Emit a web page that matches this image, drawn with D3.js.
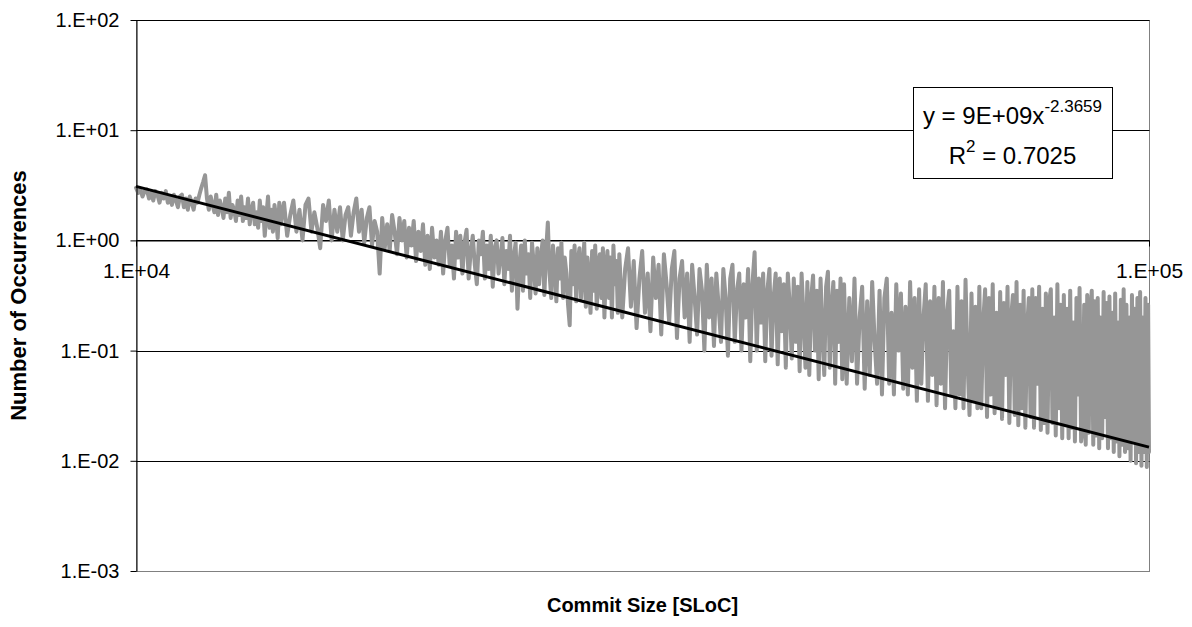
<!DOCTYPE html>
<html><head><meta charset="utf-8">
<script src="https://cdn.jsdelivr.net/npm/d3@7"></script>
<style>body{margin:0;background:#fff} svg{display:block;font-family:"Liberation Sans",Arial,sans-serif}</style>
</head><body>
<svg id="chart" width="1192" height="627"></svg>
<script>
const commitSize = [
10000,10050,10100,10150,10200,10250,10300,10350,10400,10450,
10500,10550,10600,10650,10700,10750,10800,10850,10900,10950,
11000,11050,11100,11150,11200,11250,11300,11350,11400,11450,
11500,11550,11600,11650,11700,11750,11800,11850,11900,11950,
12000,12050,12100,12150,12200,12250,12300,12350,12400,12450,
12500,12550,12600,12650,12700,12750,12800,12850,12900,12950,
13000,13050,13100,13150,13200,13250,13300,13350,13400,13450,
13500,13550,13600,13650,13700,13750,13800,13850,13900,13950,
14000,14100,14200,14300,14400,14500,14600,14700,14800,14900,
15000,15100,15200,15300,15400,15500,15600,15700,15800,15900,
16000,16100,16200,16300,16400,16500,16600,16700,16800,16900,
17000,17100,17200,17300,17400,17500,17600,17700,17800,17900,
18000,18100,18200,18300,18400,18500,18600,18700,18800,18900,
19000,19100,19200,19300,19400,19500,19600,19700,19800,19900,
20000,20100,20200,20300,20400,20500,20600,20700,20800,20900,
21000,21100,21200,21300,21400,21500,21600,21700,21800,21900,
22000,22100,22200,22300,22400,22500,22600,22700,22800,22900,
23000,23100,23200,23300,23400,23500,23600,23700,23800,23900,
24000,24100,24200,24300,24400,24500,24600,24700,24800,24900,
25000,25100,25200,25300,25400,25500,25600,25700,25800,25900,
26000,26100,26200,26300,26400,26500,26600,26700,26800,26900,
27000,27100,27200,27300,27400,27500,27600,27700,27800,27900,
28000,28100,28200,28300,28400,28500,28600,28700,28800,28900,
29000,29100,29200,29300,29400,29500,29600,29700,29800,29900,
30000,30200,30400,30600,30800,31000,31200,31400,31600,31800,
32000,32200,32400,32600,32800,33000,33200,33400,33600,33800,
34000,34200,34400,34600,34800,35000,35200,35400,35600,35800,
36000,36200,36400,36600,36800,37000,37200,37400,37600,37800,
38000,38200,38400,38600,38800,39000,39200,39400,39600,39800,
40000,40200,40400,40600,40800,41000,41200,41400,41600,41800,
42000,42200,42400,42600,42800,43000,43200,43400,43600,43800,
44000,44200,44400,44600,44800,45000,45200,45400,45600,45800,
46000,46200,46400,46600,46800,47000,47200,47400,47600,47800,
48000,48200,48400,48600,48800,49000,49200,49400,49600,49800,
50000,50300,50600,50900,51200,51500,51800,52100,52400,52700,
53000,53300,53600,53900,54200,54500,54800,55100,55400,55700,
56000,56300,56600,56900,57200,57500,57800,58100,58400,58700,
59000,59300,59600,59900,60200,60500,60800,61100,61400,61700,
62000,62300,62600,62900,63200,63500,63800,64100,64400,64700,
65000,65300,65600,65900,66200,66500,66800,67100,67400,67700,
68000,68300,68600,68900,69200,69500,69800,70100,70400,70700,
71000,71300,71600,71900,72200,72500,72800,73100,73400,73700,
74000,74300,74600,74900,75200,75500,75800,76100,76400,76700,
77000,77300,77600,77900,78200,78500,78800,79100,79400,79700,
80000,80300,80600,80900,81200,81500,81800,82100,82400,82700,
83000,83300,83600,83900,84200,84500,84800,85100,85400,85700,
86000,86300,86600,86900,87200,87500,87800,88100,88400,88700,
89000,89300,89600,89900,90200,90500,90800,91100,91400,91700,
92000,92300,92600,92900,93200,93500,93800,94100,94400,94700,
95000,95300,95600,95900,96200,96500,96800,97100,97400,97700,
98000,98300,98600,98900,99200,99500,99800,100000
];
const occurrences = [
3.0,2.7,2.9,2.5,2.8,2.9,2.4,2.7,2.3,2.8,
2.6,2.2,2.7,2.4,2.8,2.2,2.5,2.1,2.6,2.3,
2.0,2.5,2.6,2.0,2.4,1.9,2.5,2.2,1.9,2.4,
2.2,2.6,3.0,3.4,3.9,2.4,1.9,2.5,2.1,1.8,
2.6,1.7,2.3,2.0,1.6,2.4,1.8,2.7,1.6,2.1,
1.9,1.5,2.3,1.7,2.5,1.5,2.0,1.6,2.4,1.4,
1.9,2.2,1.4,1.8,1.3,2.3,1.5,2.0,1.1,1.7,
2.5,1.3,1.9,1.2,2.1,1.6,1.05,2.2,1.4,1.8,
2.2,1.1,1.7,2.3,1.2,1.9,1.0,2.1,2.4,1.2,
1.8,1.3,0.85,2.1,1.5,2.3,1.0,1.9,1.2,2.0,
1.0,1.7,2.0,1.1,1.8,2.4,1.2,1.9,0.95,1.6,
2.0,0.9,1.5,1.2,0.5,1.6,0.85,1.4,0.8,1.7,
1.2,0.75,1.6,1.0,1.5,0.7,1.3,0.9,1.5,0.65,
1.2,0.8,1.4,0.6,1.1,0.55,1.3,0.7,1.0,0.6,
1.2,0.5,1.0,1.3,0.6,0.9,0.45,1.2,0.7,1.1,
0.5,0.95,1.25,0.45,0.8,1.1,0.6,0.4,1.0,0.75,
1.2,0.45,0.9,0.55,1.1,0.38,0.85,1.0,0.5,0.7,
1.05,0.4,0.8,0.55,1.1,0.35,0.7,0.95,0.24,0.6,
0.9,0.35,1.0,0.5,0.75,0.3,0.95,0.6,0.33,0.85,
0.4,0.7,1.0,0.32,0.8,1.45,0.5,0.3,0.9,0.6,
0.28,0.85,0.45,0.95,0.3,0.7,0.5,0.26,0.17,0.8,
0.4,0.9,0.28,0.65,0.85,0.3,0.55,0.95,0.25,0.7,
0.45,0.22,0.8,0.35,0.9,0.24,0.6,0.75,0.3,0.85,
0.2,0.55,0.8,0.3,0.7,0.2,0.9,0.4,0.65,0.22,
0.75,0.2,0.55,0.85,0.25,0.65,0.16,0.45,0.8,0.22,
0.5,0.15,0.7,0.3,0.6,0.14,0.75,0.4,0.18,0.55,
0.8,0.13,0.45,0.65,0.2,0.5,0.12,0.6,0.3,0.14,
0.55,0.35,0.1,0.6,0.2,0.45,0.11,0.5,0.25,0.12,
0.55,0.3,0.09,0.45,0.6,0.12,0.35,0.5,0.1,0.4,
0.2,0.55,0.08,0.4,0.78,0.1,0.45,0.18,0.5,0.08,
0.35,0.55,0.09,0.3,0.5,0.075,0.45,0.15,0.4,0.07,
0.5,0.25,0.085,0.45,0.12,0.38,0.065,0.5,0.2,0.07,
0.42,0.06,0.3,0.48,0.1,0.35,0.055,0.45,0.15,0.06,
0.38,0.52,0.07,0.25,0.42,0.05,0.35,0.12,0.45,0.055,
0.4,0.05,0.3,0.08,0.45,0.05,0.2,0.38,0.045,0.28,
0.06,0.42,0.12,0.05,0.35,0.04,0.3,0.45,0.05,0.22,
0.04,0.4,0.1,0.33,0.045,0.25,0.04,0.42,0.07,0.3,
0.035,0.36,0.05,0.2,0.4,0.035,0.28,0.06,0.38,0.032,
0.3,0.05,0.42,0.03,0.22,0.35,0.04,0.15,0.03,0.38,
0.04,0.28,0.03,0.44,0.08,0.026,0.33,0.035,0.25,0.03,
0.38,0.03,0.18,0.36,0.025,0.3,0.04,0.4,0.027,0.22,
0.03,0.34,0.024,0.27,0.06,0.38,0.022,0.2,0.32,0.026,
0.42,0.021,0.26,0.03,0.35,0.02,0.16,0.3,0.025,0.36,
0.02,0.3,0.05,0.38,0.019,0.24,0.022,0.33,0.018,0.28,
0.36,0.022,0.2,0.017,0.4,0.03,0.26,0.016,0.32,0.021,
0.24,0.016,0.35,0.02,0.18,0.015,0.3,0.04,0.37,0.015,
0.019,0.26,0.014,0.32,0.018,0.22,0.35,0.014,0.28,0.017,
0.3,0.013,0.2,0.016,0.34,0.025,0.27,0.013,0.31,0.016,
0.22,0.012,0.33,0.015,0.18,0.011,0.29,0.014,0.36,0.012,
0.26,0.013,0.2,0.01,0.32,0.015,0.24,0.0095,0.3,0.012,
0.34,0.009,0.2,0.012,0.3,0.0088,0.26,0.012
];
const trendX = [10000, 100000];
const trendY = [3.09, 0.0133];
const yTickValues = [1e-3, 1e-2, 1e-1, 1, 10, 100];
const yTickLabels = ["1.E-03", "1.E-02", "1.E-01", "1.E+00", "1.E+01", "1.E+02"];
const xTickValues = [1e4, 1e5];
const xTickLabels = ["1.E+04", "1.E+05"];
const equationMain = "y = 9E+09x";
const equationExponent = "-2.3659";
const rSquaredValue = " = 0.7025";
const xTitle = "Commit Size [SLoC]";
const yTitle = "Number of Occurrences";

const svg = d3.select("#chart");
const L = 136, R = 1149, T = 20, B = 571;
const x = d3.scaleLog().domain([1e4, 1e5]).range([L, R]);
const y = d3.scaleLog().domain([1e-3, 1e2]).range([B, T]);
const snap = v => Math.round(v) + 0.5;
const seriesData = d3.zip(commitSize, occurrences);

// plot area border
svg.append("rect").attr("x", L + 0.5).attr("y", T + 0.5)
  .attr("width", R - L).attr("height", B - T)
  .attr("fill", "none").attr("stroke", "#808080").attr("stroke-width", 1);

// gridlines
svg.append("g").selectAll("line").data(yTickValues.filter(v => v > 1e-3)).join("line")
  .attr("x1", L).attr("x2", R + 0.5)
  .attr("y1", d => snap(y(d))).attr("y2", d => snap(y(d)))
  .attr("stroke", "#000").attr("stroke-width", 1);

// x axis at y = 1
const xAxis = svg.append("g").attr("transform", `translate(0,${snap(y(1))})`)
  .call(d3.axisBottom(x).tickValues(xTickValues).tickFormat((d, i) => xTickLabels[i])
    .tickSize(6).tickSizeOuter(0).tickPadding(17));
xAxis.select(".domain").attr("stroke", "#000");
xAxis.selectAll("text").attr("font-size", 21).attr("font-family", "Liberation Sans, Arial, sans-serif").attr("fill", "#000");

// gray data line
const line = d3.line().x(d => x(d[0])).y(d => y(d[1]));
svg.append("path").datum(seriesData).attr("d", line)
  .attr("fill", "none").attr("stroke", "#969696").attr("stroke-width", 4)
  .attr("stroke-linejoin", "round").attr("stroke-linecap", "round");

// trend line
const trendData = d3.zip(trendX, trendY);
svg.append("path").datum(trendData).attr("d", line)
  .attr("fill", "none").attr("stroke", "#000").attr("stroke-width", 3);

// y axis
const yAxis = svg.append("g").attr("transform", `translate(${L + 0.5},0)`)
  .call(d3.axisLeft(y).tickValues(yTickValues).tickFormat((d, i) => yTickLabels[i])
    .tickSize(6).tickSizeOuter(0).tickPadding(11));
yAxis.select(".domain").attr("stroke", "#000");
yAxis.selectAll("text").attr("font-size", 20).attr("font-family", "Liberation Sans, Arial, sans-serif").attr("fill", "#000");

// equation box
const bx = 913, by = 87, bw = 199, bh = 91;
svg.append("rect").attr("x", bx + 0.5).attr("y", by + 0.5).attr("width", bw).attr("height", bh)
  .attr("fill", "#fff").attr("stroke", "#000").attr("stroke-width", 1);
const cx = bx + bw / 2;
const t1 = svg.append("text").attr("x", cx).attr("y", 124).attr("text-anchor", "middle")
  .attr("font-size", 24);
t1.append("tspan").text(equationMain);
t1.append("tspan").attr("font-size", 17).attr("dy", -12).text(equationExponent);
const t2 = svg.append("text").attr("x", cx).attr("y", 164).attr("text-anchor", "middle")
  .attr("font-size", 24);
t2.append("tspan").text("R");
t2.append("tspan").attr("font-size", 17).attr("dy", -12).text("2");
t2.append("tspan").attr("dy", 12).text(rSquaredValue);

// axis titles
svg.append("text").attr("x", (L + R) / 2).attr("y", 612).attr("text-anchor", "middle")
  .attr("font-size", 20).attr("font-weight", "bold").text(xTitle);
svg.append("text").attr("transform", `translate(26,${(T + B) / 2}) rotate(-90)`)
  .attr("text-anchor", "middle").attr("font-size", 22).attr("font-weight", "bold").text(yTitle);
</script>
</body></html>
